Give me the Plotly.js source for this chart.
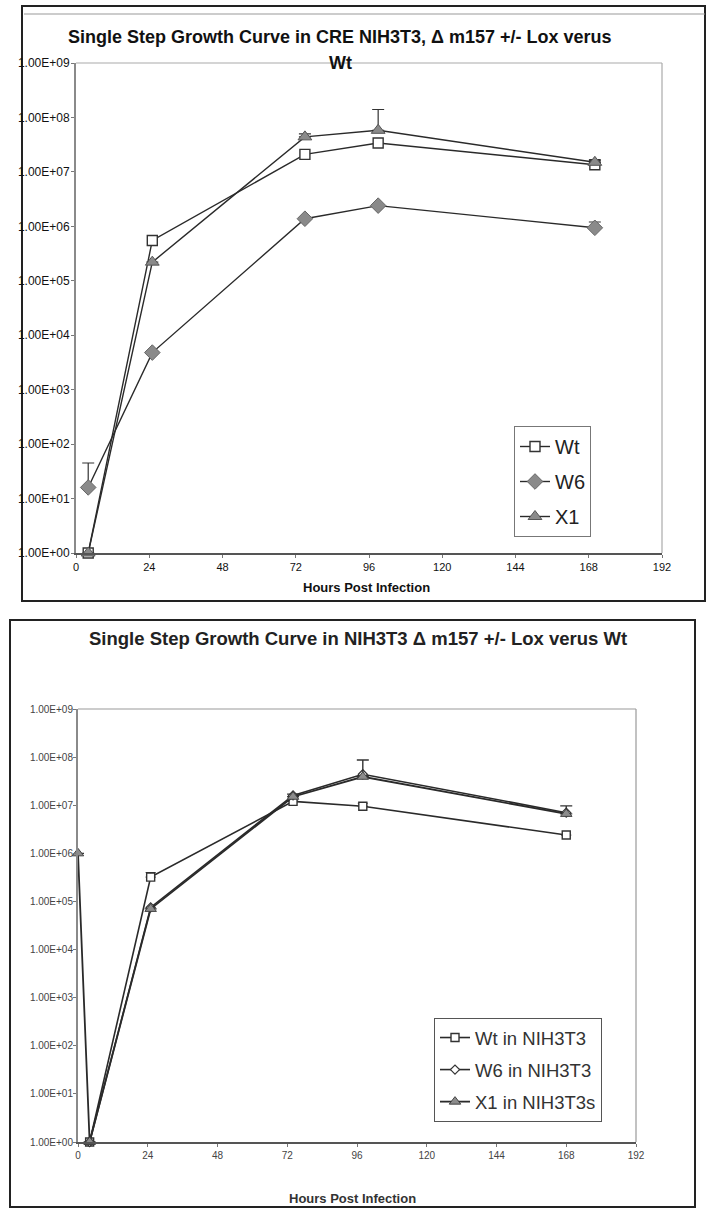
<!DOCTYPE html>
<html>
<head>
<meta charset="utf-8">
<script src="https://cdn.plot.ly/plotly-3.0.1.min.js"></script>
<style>html,body{margin:0;padding:0;background:#fff;}#chart{width:706px;height:1216px;}</style>
</head>
<body>
<div id="chart"></div>
<script>
// ---------- Data ----------
// Chart 1: CRE NIH3T3
var hours1 = [4, 25, 75, 99, 170];
var wt1 = [1, 5.5e5, 2.1e7, 3.4e7, 1.35e7];
var w6_1 = [16, 4.8e3, 1.38e6, 2.4e6, 9.4e5];
var w6_1Err = [29, 0, 0, 0, 2.6e5];
var x1_1 = [1, 2.2e5, 4.4e7, 5.8e7, 1.5e7];
var x1_1Err = [0, 0, 6e6, 8.2e7, 1.5e6];

// Chart 2: NIH3T3
var hours2 = [4, 25, 74, 98, 168];
var x1Hours2 = [0, 4, 25, 74, 98, 168];
var wt2 = [1, 3.2e5, 1.2e7, 9.5e6, 2.4e6];
var wt2Err = [0, 8e4, 0, 1.5e6, 0];
var w6_2 = [1, 7.5e4, 1.6e7, 4.4e7, 7e6];
var x1_2 = [1e6, 1, 7e4, 1.5e7, 3.9e7, 6.6e6];
var x1_2Err = [0, 0, 0, 2e6, 4.8e7, 3.1e6];

var names1 = ["Wt", "W6", "X1"];
var names2 = ["Wt in NIH3T3", "W6 in NIH3T3", "X1 in NIH3T3s"];
var xTicks = [0, 24, 48, 72, 96, 120, 144, 168, 192];
var yTickVals = [1, 10, 100, 1e3, 1e4, 1e5, 1e6, 1e7, 1e8, 1e9];
var yTickText = ["1.00E+00","1.00E+01","1.00E+02","1.00E+03","1.00E+04","1.00E+05","1.00E+06","1.00E+07","1.00E+08","1.00E+09"];

function zeros(n){ var a=[]; for(var i=0;i<n;i++) a.push(0); return a; }

var FONT = "Arial, Liberation Sans, sans-serif";
var lineDark = "#2a2a2a";
var traces = [
  // Chart 1
  {x: hours1, y: wt1, name: names1[0], mode: "lines+markers", xaxis: "x", yaxis: "y", legend: "legend", legendgroup: "a1",
   cliponaxis: false, line: {color: lineDark, width: 1.4},
   marker: {symbol: "square", size: 10, color: "#ffffff", line: {color: "#333", width: 1.4}}},
  {x: hours1, y: w6_1, name: names1[1], mode: "lines+markers", xaxis: "x", yaxis: "y", legend: "legend", legendgroup: "b1",
   cliponaxis: false, line: {color: lineDark, width: 1.4},
   marker: {symbol: "diamond", size: 12, color: "#8a8a8a", line: {color: "#666", width: 1}},
   error_y: {type: "data", symmetric: false, array: w6_1Err, arrayminus: zeros(5), color: "#333", thickness: 1.2, width: 6}},
  {x: hours1, y: x1_1, name: names1[2], mode: "lines+markers", xaxis: "x", yaxis: "y", legend: "legend", legendgroup: "c1",
   cliponaxis: false, line: {color: lineDark, width: 1.4},
   marker: {symbol: "triangle-up", size: 12, color: "#8a8a8a", line: {color: "#555", width: 1}},
   error_y: {type: "data", symmetric: false, array: x1_1Err, arrayminus: zeros(5), color: "#333", thickness: 1.2, width: 6}},
  // Chart 2
  {x: hours2, y: wt2, name: names2[0], mode: "lines+markers", xaxis: "x2", yaxis: "y2", legend: "legend2", legendgroup: "a2",
   cliponaxis: false, line: {color: lineDark, width: 1.6},
   marker: {symbol: "square", size: 8, color: "#ffffff", line: {color: "#333", width: 1.4}},
   error_y: {type: "data", symmetric: false, array: wt2Err, arrayminus: zeros(5), color: "#333", thickness: 1.2, width: 5}},
  {x: hours2, y: w6_2, name: names2[1], mode: "lines+markers", xaxis: "x2", yaxis: "y2", legend: "legend2", legendgroup: "b2",
   cliponaxis: false, line: {color: lineDark, width: 1.6},
   marker: {symbol: "diamond", size: 7, color: "#ffffff", line: {color: "#333", width: 1.2}}},
  {x: x1Hours2, y: x1_2, name: names2[2], mode: "lines+markers", xaxis: "x2", yaxis: "y2", legend: "legend2", legendgroup: "c2",
   cliponaxis: false, line: {color: lineDark, width: 1.8},
   marker: {symbol: "triangle-up", size: 10, color: "#8c8c8c", line: {color: "#444", width: 1}},
   error_y: {type: "data", symmetric: false, array: x1_2Err, arrayminus: zeros(6), color: "#333", thickness: 1.4, width: 6}}
];

function xAxis(domain, anchor, fs, color){
  return {domain: domain, anchor: anchor, range: [0, 192], tickvals: xTicks, ticktext: xTicks.map(String),
    showgrid: false, zeroline: false, showline: true, linecolor: "#555", linewidth: 2,
    ticks: "outside", ticklen: 3, tickcolor: "#777", fixedrange: true,
    tickfont: {family: FONT, size: fs, color: color}};
}
function yAxis(domain, anchor, fs, color, standoff){
  return {domain: domain, anchor: anchor, type: "log", range: [0, 9], tickvals: yTickVals, ticktext: yTickText,
    showgrid: false, zeroline: false, showline: true, linecolor: "#8a8a8a", linewidth: 2,
    ticks: "outside", ticklen: 3, tickcolor: "#777", ticklabelstandoff: standoff, fixedrange: true,
    tickfont: {family: FONT, size: fs, color: color}};
}

var W = 706, H = 1216;
function px(x){ return x / W; }
function py(y){ return 1 - y / H; }

var layout = {
  width: W, height: H,
  margin: {l: 0, r: 0, t: 0, b: 0},
  paper_bgcolor: "#ffffff", plot_bgcolor: "#ffffff",
  showlegend: true,
  xaxis: xAxis([px(76), px(662)], "y", 11, "#111"),
  yaxis: yAxis([py(553), py(63)], "x", 12, "#111", -1),
  xaxis2: xAxis([px(78), px(636)], "y2", 10, "#444"),
  yaxis2: yAxis([py(1142), py(709)], "x2", 10, "#444", -2),
  legend: {x: px(514), y: py(426), xanchor: "left", yanchor: "top", bgcolor: "#fff",
    bordercolor: "#777", borderwidth: 1, traceorder: "grouped", tracegroupgap: 6,
    font: {family: FONT, size: 20, color: "#222"}},
  legend2: {x: px(434), y: py(1018), xanchor: "left", yanchor: "top", bgcolor: "#fff",
    bordercolor: "#555", borderwidth: 1, traceorder: "grouped", tracegroupgap: 5,
    font: {family: FONT, size: 18.5, color: "#333"}},
  annotations: [
    {text: "<b>Single Step Growth Curve in CRE NIH3T3, Δ m157 +/- Lox verus</b>", xref: "paper", yref: "paper",
     x: px(340), y: py(37), xanchor: "center", yanchor: "middle", showarrow: false,
     font: {family: FONT, size: 18, color: "#111"}},
    {text: "<b>Wt</b>", xref: "paper", yref: "paper",
     x: px(340), y: py(63), xanchor: "center", yanchor: "middle", showarrow: false,
     font: {family: FONT, size: 18, color: "#111"}},
    {text: "<b>Hours Post Infection</b>", xref: "paper", yref: "paper", x: px(366), y: py(587),
     xanchor: "center", yanchor: "middle", showarrow: false,
     font: {family: FONT, size: 13, color: "#111"}},
    {text: "<b>Single Step Growth Curve in NIH3T3 Δ m157 +/- Lox verus Wt</b>", xref: "paper", yref: "paper",
     x: px(358), y: py(639), xanchor: "center", yanchor: "middle", showarrow: false,
     font: {family: FONT, size: 18.5, color: "#222"}},
    {text: "<b>Hours Post Infection</b>", xref: "paper", yref: "paper", x: px(352), y: py(1198),
     xanchor: "center", yanchor: "middle", showarrow: false,
     font: {family: FONT, size: 13, color: "#333"}}
  ],
  shapes: [
    // outer frame chart 1
    {type: "rect", xref: "paper", yref: "paper", x0: px(22), x1: px(705), y0: py(601), y1: py(6),
     line: {color: "#222", width: 2}, fillcolor: "rgba(0,0,0,0)", layer: "below"},
    {type: "line", xref: "paper", yref: "paper", x0: px(24), x1: px(705), y0: py(14), y1: py(14),
     line: {color: "#999", width: 1}},
    // outer frame chart 2
    {type: "rect", xref: "paper", yref: "paper", x0: px(10), x1: px(695), y0: py(1207), y1: py(620),
     line: {color: "#222", width: 2}, fillcolor: "rgba(0,0,0,0)", layer: "below"},
    // plot-area borders (top / right, light)
    {type: "line", xref: "x domain", yref: "y domain", x0: 0, x1: 1, y0: 1, y1: 1, line: {color: "#aaa", width: 1.2}},
    {type: "line", xref: "x domain", yref: "y domain", x0: 1, x1: 1, y0: 0, y1: 1, line: {color: "#aaa", width: 1.2}},
    {type: "line", xref: "x2 domain", yref: "y2 domain", x0: 0, x1: 1, y0: 1, y1: 1, line: {color: "#999", width: 1.2}},
    {type: "line", xref: "x2 domain", yref: "y2 domain", x0: 1, x1: 1, y0: 0, y1: 1, line: {color: "#999", width: 1.2}}
  ]
};

Plotly.newPlot("chart", traces, layout, {displayModeBar: false, staticPlot: true});
</script>
</body>
</html>
